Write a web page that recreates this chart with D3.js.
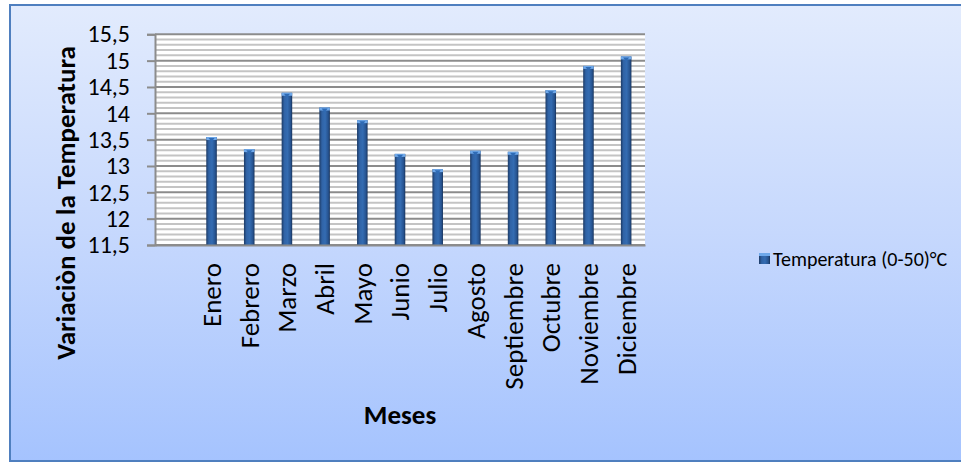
<!DOCTYPE html>
<html>
<head>
<meta charset="utf-8">
<script src="https://cdn.jsdelivr.net/npm/d3@7"></script>
<style>
  html, body { margin: 0; padding: 0; background: #ffffff; }
  svg { display: block; }
  text { font-family: Carlito, Calibri, Lato, "Open Sans", sans-serif; fill: #000; }
</style>
</head>
<body>
<svg id="chart" width="961" height="462"></svg>
<script>
// Monthly mean temperature; the first slot of the category axis is left empty.
const categories = ["", "Enero", "Febrero", "Marzo", "Abril", "Mayo", "Junio", "Julio",
  "Agosto", "Septiembre", "Octubre", "Noviembre", "Diciembre"];
const temperatures = [null, 13.55, 13.32, 14.39, 14.11, 13.87, 13.23, 12.94,
  13.29, 13.27, 14.44, 14.90, 15.08];
const yTicks = [11.5, 12, 12.5, 13, 13.5, 14, 14.5, 15, 15.5];
const yMinorTicks = d3.range(115, 156).map(v => v / 10);
const seriesName = "Temperatura (0-50)°C";
const yTitle = "Variaciòn de la Temperatura";
const xTitle = "Meses";

const svg = d3.select("#chart");
const defs = svg.append("defs");

// Chart background: light blue vertical gradient
const bg = defs.append("linearGradient").attr("id", "bg")
  .attr("x1", 0).attr("y1", 0).attr("x2", 0).attr("y2", 1);
bg.append("stop").attr("offset", "0%").attr("stop-color", "#e2ebfd");
bg.append("stop").attr("offset", "50%").attr("stop-color", "#c6d8fd");
bg.append("stop").attr("offset", "100%").attr("stop-color", "#a5c3fe");

// Bar body: cylinder-like horizontal shading
const barGrad = defs.append("linearGradient").attr("id", "barGrad")
  .attr("x1", 0).attr("y1", 0).attr("x2", 1).attr("y2", 0);
[["0%", "#1d3b66"], ["25%", "#3063a6"], ["55%", "#346cb2"], ["85%", "#26528e"], ["100%", "#17325a"]]
  .forEach(([o, c]) => barGrad.append("stop").attr("offset", o).attr("stop-color", c));

// Chart frame
svg.append("rect")
  .attr("x", 10).attr("y", 5).attr("width", 960).attr("height", 456)
  .attr("fill", "url(#bg)").attr("stroke", "#4f7fbf").attr("stroke-width", 2);

const plot = { left: 155, right: 645, top: 34.3, bottom: 245 };

const x = d3.scaleBand().domain(categories)
  .range([plot.left, plot.right])
  .paddingInner(0.72).paddingOuter(0.36);
const y = d3.scaleLinear().domain([11.5, 15.5]).range([plot.bottom, plot.top]);

// Plot area
svg.append("rect")
  .attr("x", plot.left).attr("y", plot.top)
  .attr("width", plot.right - plot.left).attr("height", plot.bottom - plot.top)
  .attr("fill", "#ffffff");

// Minor gridlines
svg.append("g").selectAll("line")
  .data(yMinorTicks.filter(v => !yTicks.includes(v)))
  .join("line")
  .attr("x1", plot.left).attr("x2", plot.right)
  .attr("y1", d => y(d)).attr("y2", d => y(d))
  .attr("stroke", "#c4c4c4").attr("stroke-width", 2);

// Major gridlines
svg.append("g").selectAll("line")
  .data(yTicks)
  .join("line")
  .attr("x1", plot.left).attr("x2", plot.right)
  .attr("y1", d => y(d)).attr("y2", d => y(d))
  .attr("stroke", "#8c8c8c").attr("stroke-width", 2);

// Bars
const bars = svg.append("g").selectAll("g")
  .data(categories.map((c, i) => ({ c, v: temperatures[i] })).filter(d => d.v != null))
  .join("g");

bars.append("rect")
  .attr("x", d => x(d.c)).attr("y", d => y(d.v))
  .attr("width", x.bandwidth()).attr("height", d => y(11.5) - y(d.v))
  .attr("fill", "url(#barGrad)");

// Bevelled top of each bar
bars.append("rect")
  .attr("x", d => x(d.c)).attr("y", d => y(d.v))
  .attr("width", x.bandwidth()).attr("height", 3)
  .attr("fill", "#6ea8ea");
bars.append("path")
  .attr("d", d => {
    const cx = x(d.c) + x.bandwidth() / 2, ty = y(d.v) + 1;
    return `M${cx - 3},${ty}L${cx + 3},${ty}L${cx},${ty + 4}Z`;
  })
  .attr("fill", "#2f6bb5");

// Y axis
const yAxis = svg.append("g")
  .attr("transform", `translate(${plot.left},0)`)
  .call(d3.axisLeft(y).tickValues(yTicks).tickSize(8).tickPadding(17)
    .tickFormat(d => String(d).replace(".", ",")));
yAxis.select(".domain").attr("stroke", "#8c8c8c").attr("stroke-width", 2);
yAxis.selectAll(".tick line").attr("stroke", "#8c8c8c").attr("stroke-width", 2);
yAxis.selectAll(".tick text").attr("font-size", 24).attr("font-family", null);

// X axis
const xAxis = svg.append("g")
  .attr("transform", `translate(0,${plot.bottom})`)
  .call(d3.axisBottom(x).tickSize(0).tickPadding(0));
xAxis.select(".domain").attr("stroke", "#8c8c8c").attr("stroke-width", 2);
xAxis.selectAll(".tick text")
  .attr("font-size", 27).attr("font-family", null)
  .attr("text-anchor", "end")
  .attr("transform", "rotate(-90)")
  .attr("x", -18).attr("y", 0).attr("dy", "0.35em");

// Axis titles
svg.append("text")
  .attr("transform", "translate(66,203) rotate(-90)")
  .attr("text-anchor", "middle").attr("dy", "0.35em")
  .attr("font-size", 27).attr("font-weight", "bold")
  .text(yTitle);

svg.append("text")
  .attr("x", 400).attr("y", 415)
  .attr("text-anchor", "middle").attr("dy", "0.35em")
  .attr("font-size", 27).attr("font-weight", "bold")
  .text(xTitle);

// Legend
const legend = svg.append("g").attr("transform", "translate(759,253)");
legend.append("rect").attr("width", 11).attr("height", 11).attr("fill", "url(#barGrad)");
legend.append("rect").attr("width", 11).attr("height", 3).attr("fill", "#6ea8ea");
legend.append("text")
  .attr("x", 14).attr("y", 5.5).attr("dy", "0.35em")
  .attr("font-size", 20)
  .text(seriesName);
</script>
</body>
</html>
